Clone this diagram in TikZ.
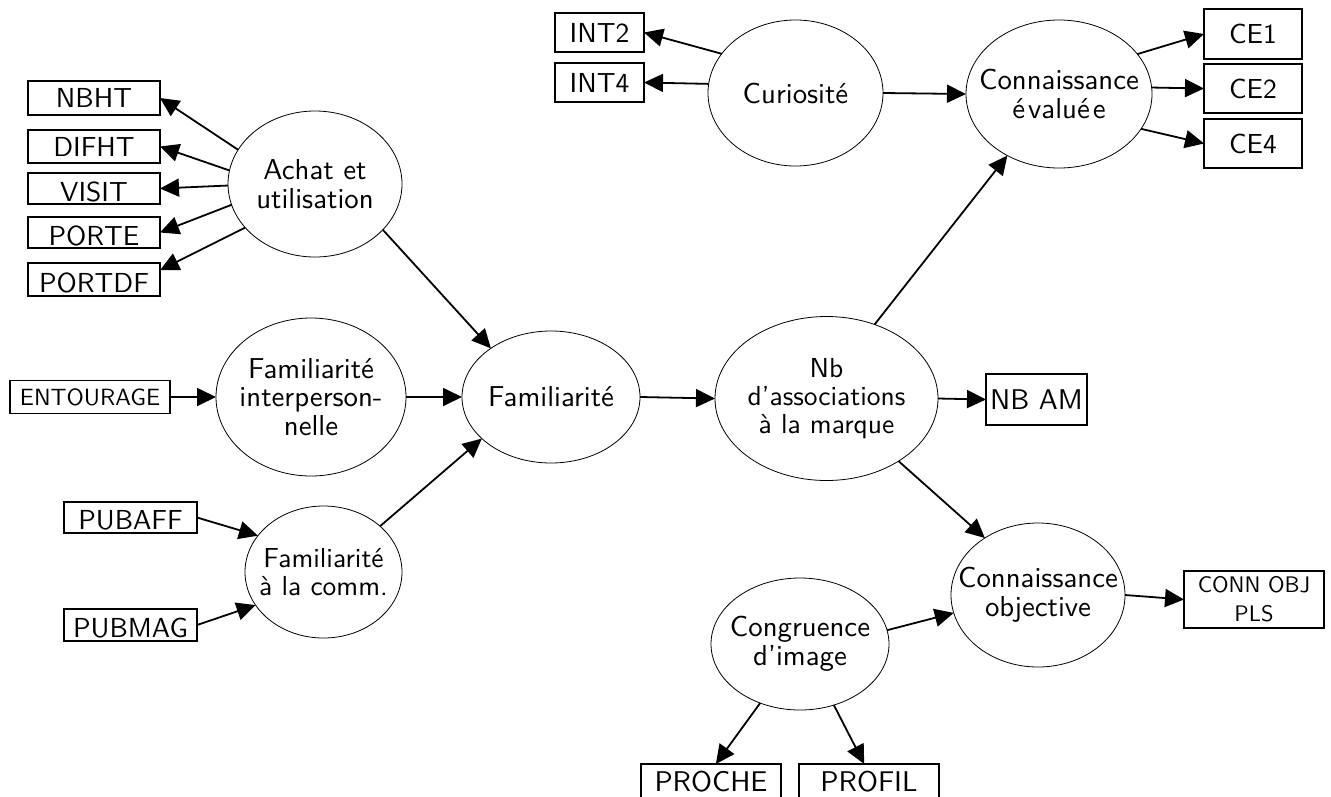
\documentclass[tikz,border=0pt]{standalone}
\usepackage{fontspec}
\setsansfont{lmsans10-regular.otf}
\usetikzlibrary{arrows.meta,shapes.geometric}

% text sizes
\newcommand\ftxt{\sffamily\fontsize{28.8}{28.5}\selectfont}
\newcommand\mtxt{\sffamily\fontsize{27.5}{28.3}\selectfont}
\newcommand\btxt{\sffamily\fontsize{27.5}{30}\selectfont}
\newcommand\stxt{\sffamily\fontsize{23.5}{26}\selectfont}
\newcommand\ctxt{\sffamily\fontsize{22.5}{29}\selectfont}
\newcommand\ltxt{\sffamily\fontsize{28.5}{30}\selectfont}

\tikzset{
  lat/.style={ellipse, draw, line width=0.8pt, inner sep=0pt, outer sep=0pt},
  mbox/.style={rectangle, draw, line width=1.6pt, inner sep=0pt, outer sep=0pt},
  lbl/.style={align=center, font=\ftxt, inner sep=0pt},
  blbl/.style={font=\btxt, inner sep=0pt, text height=19pt, text depth=0pt},
  conn/.style={line width=1.8pt, -{Triangle[length=19pt,width=18pt]}},
}

\begin{document}
\begin{tikzpicture}[x=1pt,y=-1pt]
\useasboundingbox (0,0) rectangle (1331,796);

% latent variables
\node[lat, minimum width=174pt, minimum height=146pt,
      label={[lbl]center:Achat et\\utilisation}] (ach) at (315,184) {};
\node[lat, minimum width=190pt, minimum height=158pt,
      label={[lbl]center:Familiarité\\interperson-\\nelle}] (famint) at (311,397) {};
\node[lat, minimum width=178pt, minimum height=132pt,
      label={[lbl]center:Familiarité}] (fam) at (551,397) {};
\node[lat, minimum width=157pt, minimum height=132pt,
      label={[lbl,font=\mtxt]center:Familiarité\\à la comm.}] (famcomm) at (323.5,572) {};
\node[lat, minimum width=223pt, minimum height=164pt,
      label={[lbl,font=\mtxt]center:Nb\\d’associations\\à la marque}] (nb) at (826.5,398.5) {};
\node[lat, minimum width=175pt, minimum height=146pt,
      label={[lbl]center:Curiosité}] (cur) at (795.5,93) {};
\node[lat, minimum width=186pt, minimum height=148pt,
      label={[lbl]center:Connaissance\\é\kern3pt valué\kern3pt e}] (ce) at (1059,94) {};
\node[lat, minimum width=174pt, minimum height=144pt,
      label={[lbl]center:Connaissance\\objective}] (connobj) at (1038,595) {};
\node[lat, minimum width=178pt, minimum height=132pt,
      label={[lbl]center:Congruence\\d’image}] (cong) at (800,644) {};

% indicators
\node[mbox, minimum width=132pt, minimum height=34pt,
      label={[blbl]center:NBHT}] (nbht) at (94,98) {};
\node[mbox, minimum width=132pt, minimum height=33pt,
      label={[blbl]center:DIFHT}] (difht) at (94,146.5) {};
\node[mbox, minimum width=132pt, minimum height=31pt,
      label={[blbl,yshift=-3pt]center:VISIT}] (visit) at (94,188.5) {};
\node[mbox, minimum width=132pt, minimum height=31pt,
      label={[blbl,yshift=-3pt]center:PORTE}] (porte) at (94,232.5) {};
\node[mbox, minimum width=132pt, minimum height=33pt,
      label={[blbl,yshift=-3pt]center:PORTDF}] (portdf) at (94,279.5) {};
\node[mbox, minimum width=160pt, minimum height=33pt,
      label={[blbl,font=\stxt,text height=16.2pt]center:ENTOURAGE}] (entourage) at (90,397) {};
\node[mbox, minimum width=133pt, minimum height=31pt,
      label={[blbl,yshift=-2pt]center:PUBAFF}] (pubaff) at (130.5,517.5) {};
\node[mbox, minimum width=133pt, minimum height=32pt,
      label={[blbl,yshift=-3pt]center:PUBMAG}] (pubmag) at (130.5,625) {};
\node[mbox, minimum width=89pt, minimum height=39pt,
      label={[blbl]center:INT2}] (int2) at (599.5,32.5) {};
\node[mbox, minimum width=89pt, minimum height=39pt,
      label={[blbl]center:INT4}] (int4) at (599.5,82.5) {};
\node[mbox, minimum width=98pt, minimum height=50pt,
      label={[blbl]center:CE1}] (ce1) at (1253,34) {};
\node[mbox, minimum width=98pt, minimum height=49pt,
      label={[blbl]center:CE2}] (ce2) at (1253,88.5) {};
\node[mbox, minimum width=98pt, minimum height=49pt,
      label={[blbl]center:CE4}] (ce4) at (1253,143.5) {};
\node[mbox, minimum width=101pt, minimum height=51pt,
      label={[blbl,font=\ltxt,text height=19.7pt]center:NB AM}] (nbam) at (1036.5,399.5) {};
\node[mbox, minimum width=140pt, minimum height=57pt,
      label={[align=center,font=\ctxt,inner sep=0pt]center:CONN OBJ\\PLS}] (connpls) at (1254,599.5) {};
\node[mbox, minimum width=140pt, minimum height=36pt,
      label={[blbl,font=\ltxt,text height=19.7pt]center:PROCHE}] (proche) at (711,782) {};
\node[mbox, minimum width=140pt, minimum height=36pt,
      label={[blbl,font=\ltxt,text height=19.7pt]center:PROFIL}] (profil) at (869,782) {};

% paths
\draw[conn] (ach.156) -- (nbht.east);
\draw[conn] (ach.171) -- (difht.east);
\draw[conn] (ach.181) -- (visit.east);
\draw[conn] (ach.194) -- (porte.east);
\draw[conn] (ach.212) -- (portdf.8);
\draw[conn] (ach.-34) -- (fam.141);
\draw[conn] (entourage.east) -- (famint.west);
\draw[conn] (famint.east) -- (fam.west);
\draw[conn] (pubaff.east) -- (famcomm.151);
\draw[conn] (pubmag.east) -- (famcomm.206);
\draw[conn] (famcomm.39) -- (fam.211);
\draw[conn] (fam.east) -- (nb.west);
\draw[conn] (nb.east) -- (nbam.west);
\draw[conn] (nb.57) -- (ce.230);
\draw[conn] (nb.-41) -- (connobj.133);
\draw[conn] (cong.9) -- (connobj.192);
\draw[conn] (connobj.east) -- (connpls.west);
\draw[conn] (cong.236) -- (proche.75);
\draw[conn] (cong.299) -- (profil.105);
\draw[conn] (cur.152) -- (int2.east);
\draw[conn] (cur.174) -- (int4.east);
\draw[conn] (cur.east) -- (ce.west);
\draw[conn] (ce.27) -- (ce1.west);
\draw[conn] (ce.4) -- (ce2.west);
\draw[conn] (ce.-23) -- (ce4.west);
\end{tikzpicture}
\end{document}
